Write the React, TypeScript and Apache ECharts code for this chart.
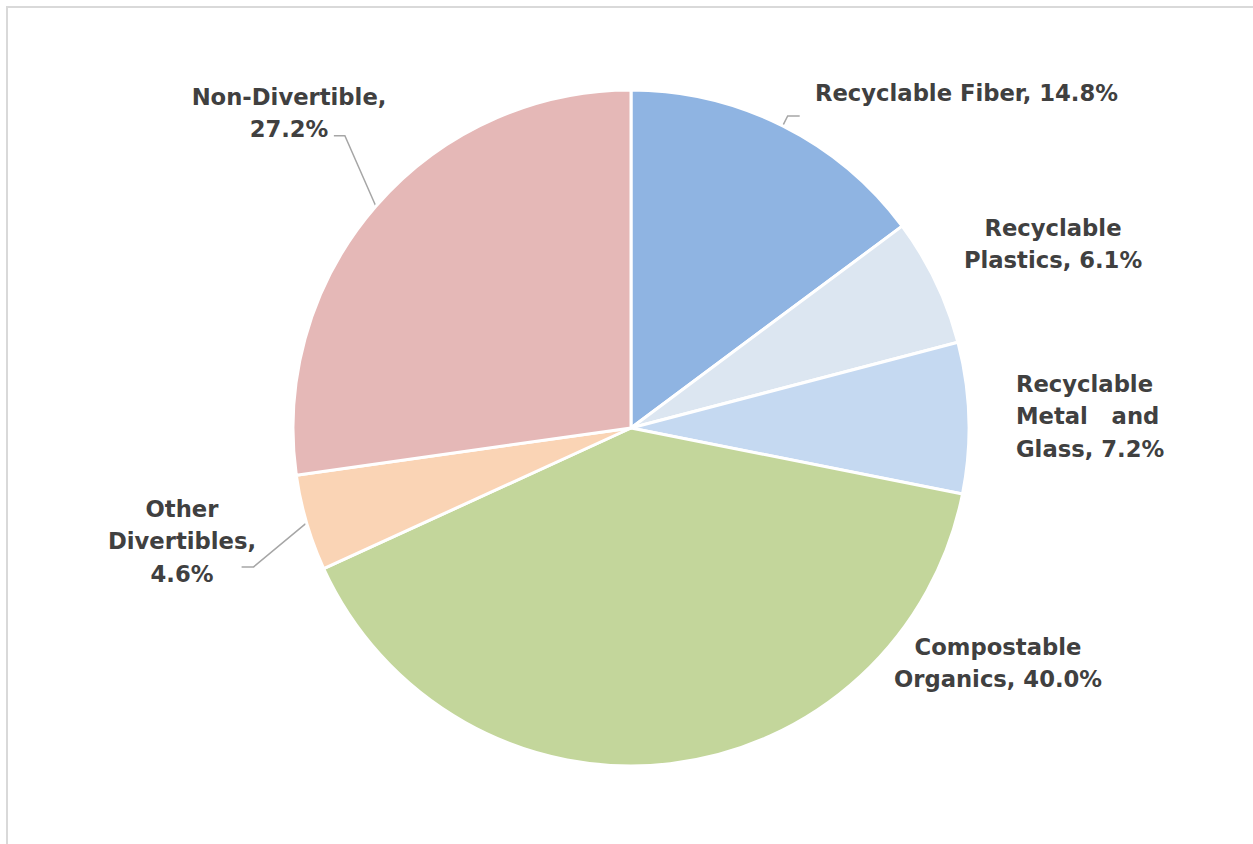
import React, { useEffect, useRef } from "react";
import * as echarts from "echarts";

const categories = [
  "Recyclable Fiber",
  "Recyclable Plastics",
  "Recyclable Metal and Glass",
  "Compostable Organics",
  "Other Divertibles",
  "Non-Divertible",
];
const shares = [14.8, 6.1, 7.2, 40.0, 4.6, 27.2];
const labelTemplates = [
  "Recyclable Fiber, {v}",
  "Recyclable\nPlastics, {v}",
  "Recyclable\nMetal   and\nGlass, {v}",
  "Compostable\nOrganics, {v}",
  "Other\nDivertibles,\n{v}",
  "Non-Divertible,\n{v}",
];
const colors = ["#8FB4E2", "#DCE6F1", "#C5D9F1", "#C3D69B", "#FAD4B5", "#E5B8B7"];

// label placement (layout only)
const labelPos: { x: number; y: number; align: string }[] = [
  { x: 815, y: 93, align: "left" },
  { x: 1053, y: 244, align: "center" },
  { x: 1016, y: 416, align: "left" },
  { x: 998, y: 663, align: "center" },
  { x: 182, y: 541, align: "center" },
  { x: 289, y: 113, align: "center" },
];
// leader line offsets relative to the slice anchor: [bendDx, bendDy, endDx]
const leader: (number[] | null)[] = [
  [5, -10, 17],
  null,
  null,
  null,
  [-53, 44, -65],
  [-31, -70.5, -42],
];

export default function App() {
  const ref = useRef<HTMLDivElement>(null);
  useEffect(() => {
    if (!ref.current) return;
    const chart = echarts.init(ref.current, null, { renderer: "svg" });
    chart.setOption({
      animation: false,
      backgroundColor: "#ffffff",
      graphic: [
        {
          type: "rect",
          shape: { x: 7, y: 7, width: 1400, height: 1000 },
          style: { fill: "none", stroke: "#D9D9D9", lineWidth: 2 },
          silent: true,
        },
      ],
      series: [
        {
          type: "pie",
          center: [631, 428],
          radius: 338,
          startAngle: 90,
          clockwise: true,
          avoidLabelOverlap: false,
          itemStyle: { borderColor: "#ffffff", borderWidth: 3 },
          label: {
            show: true,
            position: "outside",
            overflow: "none",
            color: "#404040",
            fontFamily: "DejaVu Sans",
            fontWeight: "bold",
            fontSize: 22.7,
            lineHeight: 32.5,
            formatter: (p: any) =>
              labelTemplates[p.dataIndex].replace("{v}", p.value.toFixed(1) + "%"),
          },
          labelLine: {
            show: true,
            length: 20,
            length2: 10,
            lineStyle: { color: "#A6A6A6", width: 1.5 },
          },
          labelLayout: (params: any) => {
            const i = params.dataIndex;
            const pos = labelPos[i];
            const out: any = {
              x: pos.x,
              y: pos.y,
              align: pos.align,
              verticalAlign: "middle",
            };
            const l = leader[i];
            const pts = params.labelLinePoints;
            if (l && pts && pts.length) {
              const a = pts[0];
              out.labelLinePoints = [
                [a[0], a[1]],
                [a[0] + l[0], a[1] + l[1]],
                [a[0] + l[2], a[1] + l[1]],
              ];
            }
            return out;
          },
          data: categories.map((name, i) => ({
            name,
            value: shares[i],
            itemStyle: { color: colors[i] },
            labelLine: { show: leader[i] != null },
          })),
        },
      ],
    });
    return () => chart.dispose();
  }, []);
  return (
    <div
      ref={ref}
      style={{ position: "absolute", left: 0, top: 0, width: 1253, height: 844 }}
    />
  );
}
